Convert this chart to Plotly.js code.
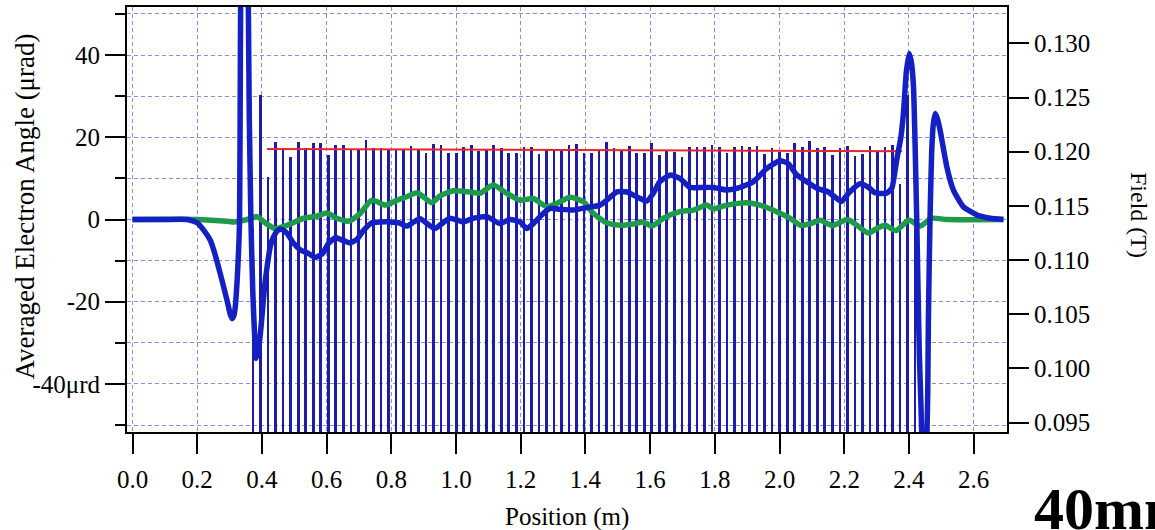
<!DOCTYPE html>
<html>
<head>
<meta charset="utf-8">
<script src="https://cdn.plot.ly/plotly-3.0.1.min.js"></script>
<style>
  html, body { margin: 0; padding: 0; background: #ffffff; }
  #chart { width: 1155px; height: 530px; }
</style>
</head>
<body>
<div id="chart"></div>
<script>
// Pole peak positions (m) and peak field (T)
const poleX = [
  0.3725, 0.3958, 0.4190, 0.4423, 0.4655, 0.4888, 0.5121, 0.5353, 0.5586, 0.5818,
  0.6051, 0.6283, 0.6516, 0.6749, 0.6981, 0.7213, 0.7446, 0.7678, 0.7911, 0.8144,
  0.8376, 0.8609, 0.8841, 0.9074, 0.9306, 0.9539, 0.9771, 1.0004, 1.0236, 1.0469,
  1.0702, 1.0934, 1.1167, 1.1399, 1.1632, 1.1864, 1.2097, 1.2329, 1.2562, 1.2794,
  1.3027, 1.3260, 1.3492, 1.3725, 1.3957, 1.4190, 1.4422, 1.4655, 1.4887, 1.5120,
  1.5353, 1.5585, 1.5818, 1.6050, 1.6283, 1.6515, 1.6748, 1.6980, 1.7213, 1.7445,
  1.7678, 1.7911, 1.8143, 1.8376, 1.8608, 1.8841, 1.9073, 1.9306, 1.9538, 1.9771,
  2.0004, 2.0236, 2.0469, 2.0701, 2.0934, 2.1166, 2.1399, 2.1631, 2.1864, 2.2097,
  2.2329, 2.2562, 2.2794, 2.3027, 2.3259, 2.3492, 2.3724, 2.3957, 2.4189
];
const poleField = [
  0.1130, 0.1252, 0.1177, 0.1209, 0.1202, 0.1195, 0.1209, 0.1203, 0.1208, 0.1208,
  0.1197, 0.1206, 0.1206, 0.1202, 0.1202, 0.1211, 0.1203, 0.1203, 0.1202, 0.1202,
  0.1202, 0.1205, 0.1202, 0.1199, 0.1207, 0.1206, 0.1199, 0.1199, 0.1204, 0.1206,
  0.1201, 0.1202, 0.1206, 0.1203, 0.1199, 0.1199, 0.1204, 0.1204, 0.1198, 0.1202,
  0.1202, 0.1202, 0.1206, 0.1207, 0.1199, 0.1199, 0.1202, 0.1209, 0.1203, 0.1202,
  0.1205, 0.1199, 0.1199, 0.1208, 0.1197, 0.1202, 0.1200, 0.1195, 0.1204, 0.1204,
  0.1204, 0.1206, 0.1204, 0.1199, 0.1204, 0.1205, 0.1204, 0.1205, 0.1198, 0.1203,
  0.1200, 0.1199, 0.1208, 0.1204, 0.1210, 0.1203, 0.1204, 0.1197, 0.1203, 0.1205,
  0.1196, 0.1198, 0.1205, 0.1200, 0.1204, 0.1206, 0.1170, 0.1252, 0.1130
];

// Mean peak field line (T)
const meanX = [0.416, 2.379];
const meanField = [0.12025, 0.12005];

// Averaged electron angle, horizontal (µrad)
const angleX = [
  0.000, 0.100, 0.170, 0.200, 0.220, 0.240, 0.251, 0.271, 0.292, 0.302,
  0.308, 0.314, 0.318, 0.324, 0.328, 0.331, 0.3335, 0.3350, 0.340, 0.346,
  0.352, 0.3565, 0.3585, 0.361, 0.366, 0.372, 0.378, 0.3827, 0.390, 0.395,
  0.400, 0.408, 0.416, 0.426, 0.436, 0.447, 0.457, 0.468, 0.478, 0.498,
  0.519, 0.545, 0.565, 0.586, 0.606, 0.627, 0.648, 0.673, 0.694, 0.715,
  0.740, 0.766, 0.797, 0.823, 0.849, 0.869, 0.889, 0.909, 0.935, 0.950,
  0.981, 1.023, 1.053, 1.095, 1.136, 1.167, 1.198, 1.219, 1.239, 1.270,
  1.291, 1.322, 1.363, 1.404, 1.445, 1.466, 1.497, 1.528, 1.559, 1.590,
  1.610, 1.630, 1.661, 1.692, 1.723, 1.764, 1.795, 1.837, 1.878, 1.919,
  1.960, 2.001, 2.027, 2.053, 2.084, 2.115, 2.151, 2.177, 2.192, 2.213,
  2.249, 2.275, 2.295, 2.331, 2.347, 2.362, 2.375, 2.383, 2.392, 2.401,
  2.408, 2.414, 2.419, 2.424, 2.428, 2.432, 2.437, 2.441, 2.448, 2.454,
  2.458, 2.460, 2.465, 2.470, 2.475, 2.481, 2.488, 2.496, 2.517, 2.537,
  2.568, 2.610, 2.651, 2.692
];
const angleA = [
  0.0, 0.0, 0.0, -0.8, -2.6, -5.0, -7.4, -13.1, -19.6, -23.0,
  -24.1, -23.2, -21.0, -14.0, -7.4, 0.0, 42.0, 62.0, 100.0, 108.0,
  100.0, 66.0, 48.0, 25.0, 0.0, -18.0, -29.0, -33.8, -31.0, -28.0,
  -23.7, -16.5, -11.5, -6.5, -4.2, -2.8, -2.4, -2.7, -3.4, -5.8,
  -7.4, -8.3, -9.2, -8.4, -5.8, -4.4, -5.0, -5.7, -4.8, -2.6,
  -0.8, -0.6, -0.6, -0.8, -1.6, -0.6, 0.2, -0.9, -2.2, -1.4,
  0.3, -0.6, 0.3, 0.7, -1.0, 0.0, -0.6, -2.2, -1.0, 1.5,
  2.7, 2.5, 2.3, 2.9, 3.5, 4.7, 6.7, 6.7, 5.5, 4.5,
  6.4, 9.2, 10.8, 10.0, 7.8, 7.8, 7.8, 7.2, 7.8, 9.2,
  12.4, 14.3, 13.6, 10.8, 9.2, 7.6, 6.7, 5.1, 4.4, 6.4,
  8.7, 7.8, 6.5, 6.4, 7.6, 14.5, 20.0, 26.0, 36.0, 40.4,
  38.0, 32.3, 18.0, -0.1, -17.0, -32.6, -45.0, -56.0, -62.0, -56.0,
  -42.0, -24.5, -0.1, 16.0, 23.0, 25.8, 24.5, 21.8, 12.8, 7.2,
  3.1, 1.1, 0.3, 0.0
];

// Averaged electron angle, vertical (µrad)
const angleYX = [
  0.000, 0.200, 0.300, 0.313, 0.354, 0.385, 0.410, 0.441, 0.478, 0.529,
  0.570, 0.601, 0.632, 0.668, 0.704, 0.740, 0.782, 0.818, 0.850, 0.880,
  0.925, 0.950, 0.992, 1.043, 1.074, 1.115, 1.156, 1.198, 1.239, 1.280,
  1.311, 1.352, 1.394, 1.424, 1.466, 1.507, 1.548, 1.579, 1.605, 1.641,
  1.692, 1.734, 1.775, 1.795, 1.837, 1.899, 1.940, 1.991, 2.033, 2.064,
  2.095, 2.126, 2.163, 2.210, 2.239, 2.275, 2.300, 2.326, 2.360, 2.400,
  2.434, 2.470, 2.517, 2.692
];
const angleYA = [
  0.0, 0.0, -0.5, -0.6, 0.0, 0.7, -0.8, -2.2, -1.4, 0.3,
  0.8, 1.6, 0.3, -0.4, 1.5, 4.7, 3.5, 4.7, 5.6, 6.5,
  4.1, 5.7, 7.0, 6.7, 6.4, 8.4, 6.4, 4.7, 5.1, 3.1,
  3.9, 5.4, 4.3, 1.5, -0.8, -1.4, -1.1, -0.6, -1.6, 0.3,
  1.9, 2.3, 3.5, 2.6, 3.5, 4.1, 3.5, 1.9, 0.3, -1.4,
  -1.0, -0.2, -1.5, 0.0, -1.4, -3.3, -2.2, -1.4, -2.7, -0.1,
  -1.6, 0.3, 0.0, 0.0
];

// Left axis tick labels
const angleTicks = [-40, -20, 0, 20, 40];
const angleTickText = ['-40\u03bcrd', '-20', '0', '20', '40'];
const angleMinorTicks = [-50, -30, -10, 10, 30, 50];

const SERIF = '"Liberation Serif", "Times New Roman", serif';
const GRID = '#8c8ce6';
const GRIDDASH = '4px,3px';

const traces = [
  {
    type: 'bar', x: poleX, y: poleField, xaxis: 'x', yaxis: 'y',
    width: 0.0083,
    marker: { color: '#1c1ca6', line: { width: 0 } },
    hoverinfo: 'x+y'
  },
  {
    type: 'scatter', mode: 'lines', x: meanX, y: meanField, xaxis: 'x', yaxis: 'y',
    line: { color: '#e8232a', width: 2 }
  },
  {
    type: 'scatter', mode: 'lines', x: angleYX, y: angleYA, xaxis: 'x', yaxis: 'y2',
    line: { color: '#1f9a4a', width: 5.5, shape: 'spline', smoothing: 0.6 }
  },
  {
    type: 'scatter', mode: 'lines', x: angleX, y: angleA, xaxis: 'x', yaxis: 'y2',
    line: { color: '#1420c4', width: 5.5, shape: 'spline', smoothing: 0.5 }
  }
];

const axisCommon = {
  ticks: 'outside', ticklen: 20, tickwidth: 2, tickcolor: '#000',
  showline: true, linewidth: 2, linecolor: '#000',
  zeroline: false,
  tickfont: { family: SERIF, size: 25, color: '#000' }
};

const layout = {
  width: 1155, height: 530,
  margin: { l: 127, r: 148, t: 7, b: 98, pad: 0 },
  paper_bgcolor: '#fff', plot_bgcolor: '#fff',
  showlegend: false,
  bargap: 0,
  font: { family: SERIF, size: 25, color: '#000' },
  xaxis: Object.assign({}, axisCommon, {
    range: [-0.017, 2.703],
    tickmode: 'linear', tick0: 0, dtick: 0.2, tickformat: '.1f',
    mirror: true,
    ticklabelstandoff: 4,
    showgrid: true, gridcolor: GRID, griddash: GRIDDASH, gridwidth: 1
  }),
  yaxis: Object.assign({}, axisCommon, {
    side: 'right',
    range: [0.09414, 0.13335],
    tickmode: 'linear', tick0: 0.095, dtick: 0.005, tickformat: '.3f',
    showgrid: false
  }),
  yaxis2: Object.assign({}, axisCommon, {
    overlaying: 'y', side: 'left',
    range: [-51.7, 51.7],
    tickmode: 'array', tickvals: angleTicks, ticktext: angleTickText,
    showgrid: true, gridcolor: GRID, griddash: GRIDDASH, gridwidth: 1,
    minor: {
      tickmode: 'array', tickvals: angleMinorTicks,
      ticks: 'outside', ticklen: 10, tickwidth: 2, tickcolor: '#000',
      showgrid: true, gridcolor: GRID, griddash: GRIDDASH, gridwidth: 1
    }
  }),
  annotations: [
    {
      text: 'Averaged Electron Angle (\u03bcrad)', textangle: -90,
      xref: 'paper', yref: 'paper', x: -0.1159, y: 0.5306,
      xanchor: 'center', yanchor: 'middle', showarrow: false,
      font: { family: SERIF, size: 27, color: '#000' }
    },
    {
      text: 'Field (T)', textangle: 90,
      xref: 'paper', yref: 'paper', x: 1.1500, y: 0.5106,
      xanchor: 'center', yanchor: 'middle', showarrow: false,
      font: { family: SERIF, size: 24, color: '#000' }
    },
    {
      text: 'Position (m)',
      xref: 'paper', yref: 'paper', x: 0.5, y: -0.2,
      xanchor: 'center', yanchor: 'middle', showarrow: false,
      font: { family: SERIF, size: 25, color: '#000' }
    },
    {
      text: '<b>40mm</b>',
      xref: 'paper', yref: 'paper', x: 1.0284, y: -0.18,
      xanchor: 'left', yanchor: 'middle', showarrow: false,
      font: { family: SERIF, size: 60, color: '#000' }
    }
  ]
};

Plotly.newPlot('chart', traces, layout, { displayModeBar: false, staticPlot: true });
</script>
</body>
</html>
